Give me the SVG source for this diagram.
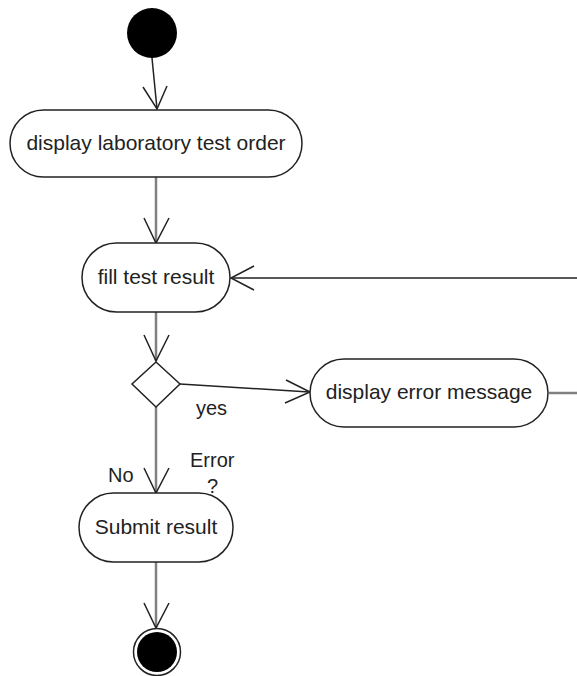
<svg xmlns="http://www.w3.org/2000/svg" width="577" height="676" viewBox="0 0 577 676">
<style>
.node{fill:#fff;stroke:#222;stroke-width:1.5}
.lbl{font-family:"Liberation Sans",Arial,sans-serif;font-size:21px;fill:#222;text-anchor:middle}
.small{font-family:"Liberation Sans",Arial,sans-serif;font-size:20px;fill:#222}
.flow{stroke:#808080;stroke-width:2.5;fill:none}
.thin{stroke:#222;stroke-width:1.5;fill:none}
.head{stroke:#222;stroke-width:1.5;fill:none;stroke-linejoin:miter}
</style>
<rect width="577" height="676" fill="#fff"/>
<g id="connectors">
  <line class="thin" x1="152" y1="58" x2="157" y2="109"/>
  <polyline class="head" points="143,87 157,109 167,86"/>
  <line class="flow" x1="156" y1="177" x2="156" y2="242"/>
  <polyline class="head" points="144,218 156,243 169,218"/>
  <line class="thin" x1="577" y1="278" x2="232" y2="278"/>
  <polyline class="head" points="254,266 231,278 254,290"/>
  <line class="flow" x1="156" y1="312" x2="156" y2="361"/>
  <polyline class="head" points="144,335 156,361 169,335"/>
  <line class="thin" x1="180" y1="384" x2="309" y2="392"/>
  <polyline class="head" points="286,380 310,392 285,403"/>
  <line class="flow" x1="549" y1="393" x2="577" y2="393"/>
  <line class="flow" x1="156" y1="407" x2="156" y2="492"/>
  <polyline class="head" points="144,468 156,493 169,468"/>
  <line class="flow" x1="156" y1="562" x2="156" y2="627"/>
  <polyline class="head" points="144,603 156,628 169,603"/>
  <text class="small" x="196" y="415">yes</text>
  <text class="small" x="108" y="482">No</text>
  <text class="small" x="190" y="467">Error</text>
  <text class="small" x="207" y="493">?</text>
</g>
<g id="start"><circle cx="152" cy="33" r="25" fill="#000"/></g>
<g id="display-order">
  <rect class="node" x="10" y="110" width="292" height="67" rx="33.5"/>
  <text class="lbl" x="156" y="150">display laboratory test order</text>
</g>
<g id="fill-result">
  <rect class="node" x="82" y="243" width="148" height="69" rx="34.5"/>
  <text class="lbl" x="156" y="284">fill test result</text>
</g>
<g id="decision">
  <polygon class="node" points="156,362 180,384 156,407 132,384"/>
</g>
<g id="error-message">
  <rect class="node" x="310" y="359" width="238" height="68" rx="34"/>
  <text class="lbl" x="429" y="399">display error message</text>
</g>
<g id="submit">
  <rect class="node" x="79" y="493" width="154" height="69" rx="34.5"/>
  <text class="lbl" x="156" y="534">Submit result</text>
</g>
<g id="end">
  <circle cx="157" cy="652" r="23.5" fill="#fff" stroke="#222" stroke-width="1.5"/>
  <circle cx="157" cy="652" r="20" fill="#000"/>
</g>
</svg>
